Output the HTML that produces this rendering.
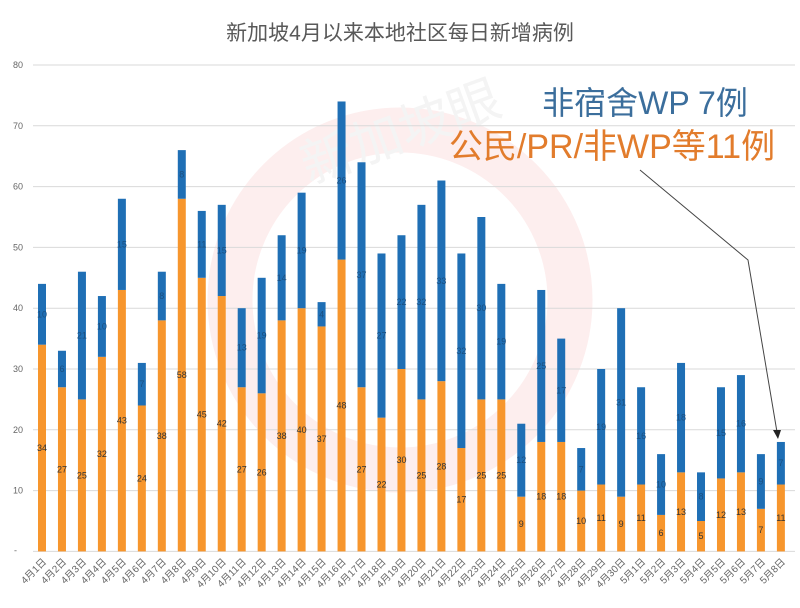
<!DOCTYPE html>
<html><head><meta charset="utf-8"><style>
body{margin:0;background:#fff;}
svg{display:block;font-family:"Liberation Sans","Noto Sans CJK SC",sans-serif;}
</style></head><body>
<svg id="c" width="800" height="608" xmlns="http://www.w3.org/2000/svg">
<rect width="800" height="608" fill="#fff"/>
<circle cx="400" cy="300" r="170" fill="none" stroke="#fdeeee" stroke-width="45"/>
<text x="400" y="150" text-anchor="middle" font-size="52" fill="#f4f4f4" transform="rotate(-20 400 130)">新加坡眼</text>
<text x="400" y="40" text-anchor="middle" font-size="21" fill="#595959">新加坡4月以来本地社区每日新增病例</text>
<g id="grid"></g>
<g id="bars"></g>
<text x="645" y="114" text-anchor="middle" font-size="32" fill="#3b6e9c">非宿舍WP 7例</text>
<text x="612" y="158" text-anchor="middle" font-size="34" fill="#e27c2c">公民/PR/非WP等11例</text>
<polyline points="640,170 748,260 777,432" fill="none" stroke="#444" stroke-width="1"/>
<polygon points="773,430 781,430 778,439" fill="#222"/>
</svg>
<script>
const d=[[44,34],[33,27],[46,25],[42,32],[58,43],[31,24],[46,38],[66,58],[56,45],[57,42],[40,27],[45,26],[52,38],[59,40],[41,37],[74,48],[64,27],[49,22],[52,30],[57,25],[61,28],[49,17],[55,25],[44,25],[21,9],[43,18],[35,18],[17,10],[30,11],[40,9],[27,11],[16,6],[31,13],[13,5],[27,12],[29,13],[16,7],[18,11]];
const y0=551.4,k=6.08;const Y=v=>y0-v*k;
let g='';
for(let v=10;v<=80;v+=10){g+=`<line x1="33" x2="795" y1="${Y(v)}" y2="${Y(v)}" stroke="#d9d9d9" stroke-width="1"/><text x="18" y="${Y(v)+3}" text-anchor="middle" font-size="9" fill="#666">${v}</text>`;}
g+=`<line x1="33" x2="795" y1="${y0}" y2="${y0}" stroke="#d9d9d9"/><text x="14" y="${y0+2}" font-size="9" fill="#666">-</text>`;
document.getElementById('grid').innerHTML=g;
let b='';
d.forEach((r,i)=>{const cx=42+i*19.97,t=r[0],o=r[1],bl=t-o;
b+=`<rect x="${cx-4}" y="${Y(o)}" width="8" height="${o*k}" fill="#f7962d"/>`;
b+=`<rect x="${cx-4}" y="${Y(t)}" width="8" height="${bl*k}" fill="#1f6fb5"/>`;
b+=`<text x="${cx}" y="${Y(o/2)+3}" text-anchor="middle" font-size="9" fill="#333">${o}</text>`;
b+=`<text x="${cx}" y="${Y(o+bl/2)+3}" text-anchor="middle" font-size="9" fill="#1a4f80">${bl}</text>`;
const m=i<30?4:5,dd=i<30?i+1:i-29;
b+=`<text x="${cx+5}" y="${y0+11}" text-anchor="end" font-size="10" fill="#666" transform="rotate(-45 ${cx+5} ${y0+11})">${m}月${dd}日</text>`;
});
document.getElementById('bars').innerHTML=b;
</script>
</body></html>
